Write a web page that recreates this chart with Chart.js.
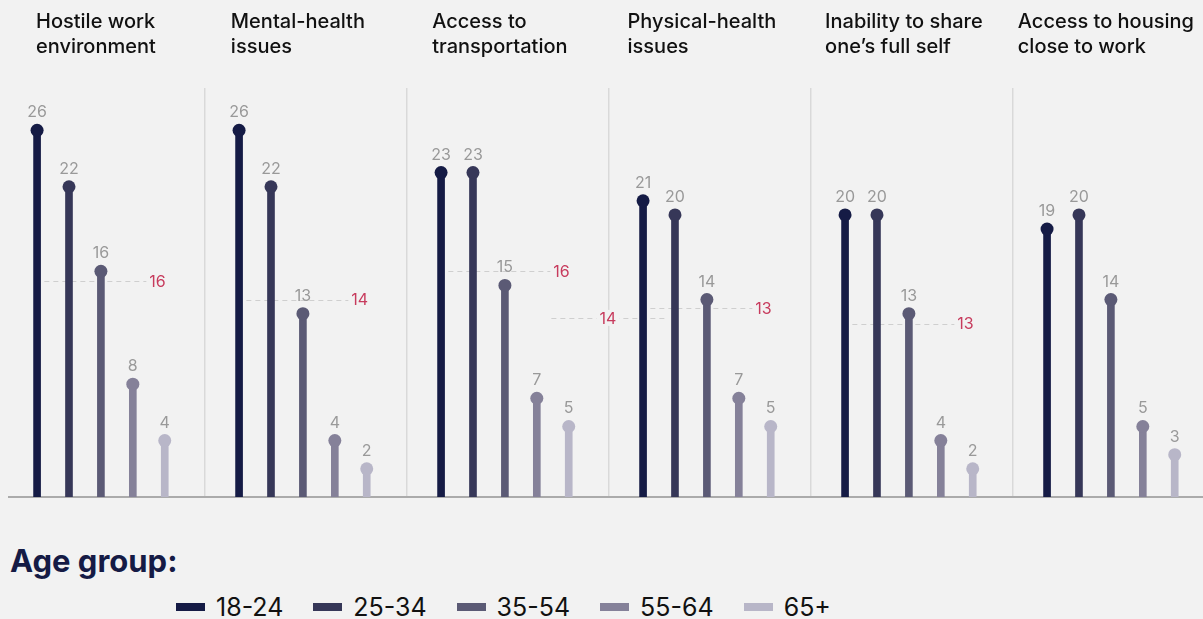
<!DOCTYPE html>
<html>
<head>
<meta charset="utf-8">
<script src="https://cdn.jsdelivr.net/npm/chart.js@4"></script>
<style>
   body { margin: 0; background: #f2f2f2; font-family: Inter, "Noto Sans", sans-serif; }
   #wrap { position: relative; width: 1203px; height: 619px; overflow: hidden; }
   #chartBox { position: absolute; left: 0; top: 0; width: 1203px; height: 520px; }
   #legendTitle { position: absolute; left: 10px; top: 541px; font-weight: 700; font-size: 31px; color: #151b45; line-height: 40px; }
   #legend { position: absolute; left: 176px; top: 592px; display: flex; font-size: 25px; color: #111; line-height: 30px; }
   .item { display: flex; align-items: center; margin-right: 30px; }
   .box { width: 29px; height: 8px; margin-right: 11px; }
</style>
</head>
<body>
<div id="wrap">
   <div id="chartBox"><canvas id="lollipopChart"></canvas></div>
   <div id="legendTitle">Age group:</div>
   <div id="legend"></div>
</div>
<script>
// Categories (panel titles)
const categories = [
   ["Hostile work", "environment"],
   ["Mental-health", "issues"],
   ["Access to", "transportation"],
   ["Physical-health", "issues"],
   ["Inability to share", "one’s full self"],
   ["Access to housing", "close to work"]
];

// Age groups and their colours
const ageGroups = ["18-24", "25-34", "35-54", "55-64", "65+"];
const groupColors = ["#151b45", "#363758", "#5b5a75", "#858199", "#b8b6c8"];

// Values per age group, one per category
const values18to24 = [26, 26, 23, 21, 20, 19];
const values25to34 = [22, 22, 23, 20, 20, 20];
const values35to54 = [16, 13, 15, 14, 13, 14];
const values55to64 = [8, 4, 7, 7, 4, 5];
const values65plus = [4, 2, 5, 5, 2, 3];
const seriesValues = [values18to24, values25to34, values35to54, values55to64, values65plus];

// Dashed reference lines: panel, label, level
const avgPanel = [0, 1, 2, 3, 3, 4];
const avgLabel = ["16", "14", "16", "14", "13", "13"];
const avgLevel = [15.3, 14.0, 16.0, 12.7, 13.4, 12.3];

const STEP = 0.158;     // distance between stems inside one panel (x units)
const INLINE_AVG = 3;   // this reference line has its label in the middle

const datasets = ageGroups.map((group, g) => ({
   type: 'bar',
   label: group,
   data: seriesValues[g].map((v, k) => ({ x: k + (g - 2) * STEP, y: v })),
   backgroundColor: groupColors[g],
   barThickness: 7,
   grouped: false
}));

// Reference lines, drawn under the stems
const avgLinesPlugin = {
   id: 'avgLines',
   beforeDatasetsDraw(chart) {
      const ctx = chart.ctx;
      const xs = chart.scales.x, ys = chart.scales.y;
      ctx.save();
      ctx.strokeStyle = '#cfcfcf';
      ctx.lineWidth = 1;
      ctx.setLineDash([5, 4]);
      avgPanel.forEach((k, i) => {
         const y = Math.round(ys.getPixelForValue(avgLevel[i])) + 0.5;
         let x0, x1;
         if (i === INLINE_AVG) {
            x0 = xs.getPixelForValue(k - 0.77);
            x1 = xs.getPixelForValue(k - 0.21);
         } else {
            x0 = xs.getPixelForValue(k - 0.28);
            x1 = xs.getPixelForValue(k + 0.225);
         }
         ctx.beginPath();
         ctx.moveTo(x0, y);
         ctx.lineTo(x1, y);
         ctx.stroke();
      });
      ctx.restore();
   },
   afterDatasetsDraw(chart) {
      const ctx = chart.ctx;
      const xs = chart.scales.x, ys = chart.scales.y;
      ctx.save();
      ctx.font = '16px Inter';
      ctx.textBaseline = 'middle';
      avgPanel.forEach((k, i) => {
         const y = ys.getPixelForValue(avgLevel[i]);
         if (i === INLINE_AVG) {
            const cx = xs.getPixelForValue(k - 0.49);
            const w = ctx.measureText(avgLabel[i]).width;
            ctx.fillStyle = '#f2f2f2';
            ctx.fillRect(cx - w / 2 - 3, y - 8, w + 6, 16);
            ctx.fillStyle = '#c73b5d';
            ctx.textAlign = 'center';
            ctx.fillText(avgLabel[i], cx, y + 1);
         } else {
            ctx.fillStyle = '#c73b5d';
            ctx.textAlign = 'left';
            ctx.fillText(avgLabel[i], xs.getPixelForValue(k + 0.225) + 3, y + 1);
         }
      });
      ctx.restore();
   }
};

// Dots on top of the stems and the value labels
const lollipopPlugin = {
   id: 'lollipop',
   afterDatasetsDraw(chart) {
      const ctx = chart.ctx;
      ctx.save();
      chart.data.datasets.forEach((ds, di) => {
         const meta = chart.getDatasetMeta(di);
         meta.data.forEach((bar, i) => {
            ctx.beginPath();
            ctx.arc(bar.x, bar.y, 6.5, 0, Math.PI * 2);
            ctx.fillStyle = ds.backgroundColor;
            ctx.fill();
            ctx.fillStyle = '#999999';
            ctx.font = '16px Inter';
            ctx.textAlign = 'center';
            ctx.textBaseline = 'alphabetic';
            ctx.fillText(ds.data[i].y, bar.x, bar.y - 13);
         });
      });
      ctx.restore();
   }
};

// Panel titles, left-aligned block roughly centred over each panel
const titlesPlugin = {
   id: 'titles',
   afterDraw(chart) {
      const ctx = chart.ctx;
      const xs = chart.scales.x;
      ctx.save();
      ctx.font = '500 20px Inter';
      ctx.fillStyle = '#111111';
      ctx.textAlign = 'left';
      ctx.textBaseline = 'alphabetic';
      categories.forEach((lines, k) => {
         const maxW = Math.max(...lines.map(l => ctx.measureText(l).width));
         const left = xs.getPixelForValue(k) - maxW / 2 - 5;
         lines.forEach((line, j) => {
            ctx.fillText(line, left, 28 + j * 25);
         });
      });
      ctx.restore();
   }
};

new Chart(document.getElementById('lollipopChart').getContext('2d'), {
   data: { datasets: datasets },
   options: {
      responsive: true,
      maintainAspectRatio: false,
      animation: false,
      layout: { padding: { top: 88, left: 9, right: 0, bottom: 23 } },
      plugins: {
         legend: { display: false },
         tooltip: { enabled: false }
      },
      scales: {
         x: {
            type: 'linear',
            offset: false,
            min: -0.455,
            max: 5.456,
            // panel separators
            afterBuildTicks: (scale) => {
               scale.ticks = [0.515, 1.515, 2.515, 3.515, 4.515].map(v => ({ value: v }));
            },
            ticks: { display: false },
            grid: { color: '#d9d9d9', lineWidth: 1.5, drawTicks: false, offset: false },
            border: { display: true, color: '#ababab', width: 2 }
         },
         y: {
            min: 0,
            max: 29,
            display: false
         }
      }
   },
   plugins: [avgLinesPlugin, lollipopPlugin, titlesPlugin]
});

// HTML legend
const legendDiv = document.getElementById('legend');
ageGroups.forEach((group, g) => {
   const item = document.createElement('div');
   item.className = 'item';
   const box = document.createElement('span');
   box.className = 'box';
   box.style.background = groupColors[g];
   const text = document.createElement('span');
   text.textContent = group;
   item.appendChild(box);
   item.appendChild(text);
   legendDiv.appendChild(item);
});
</script>
</body>
</html>
